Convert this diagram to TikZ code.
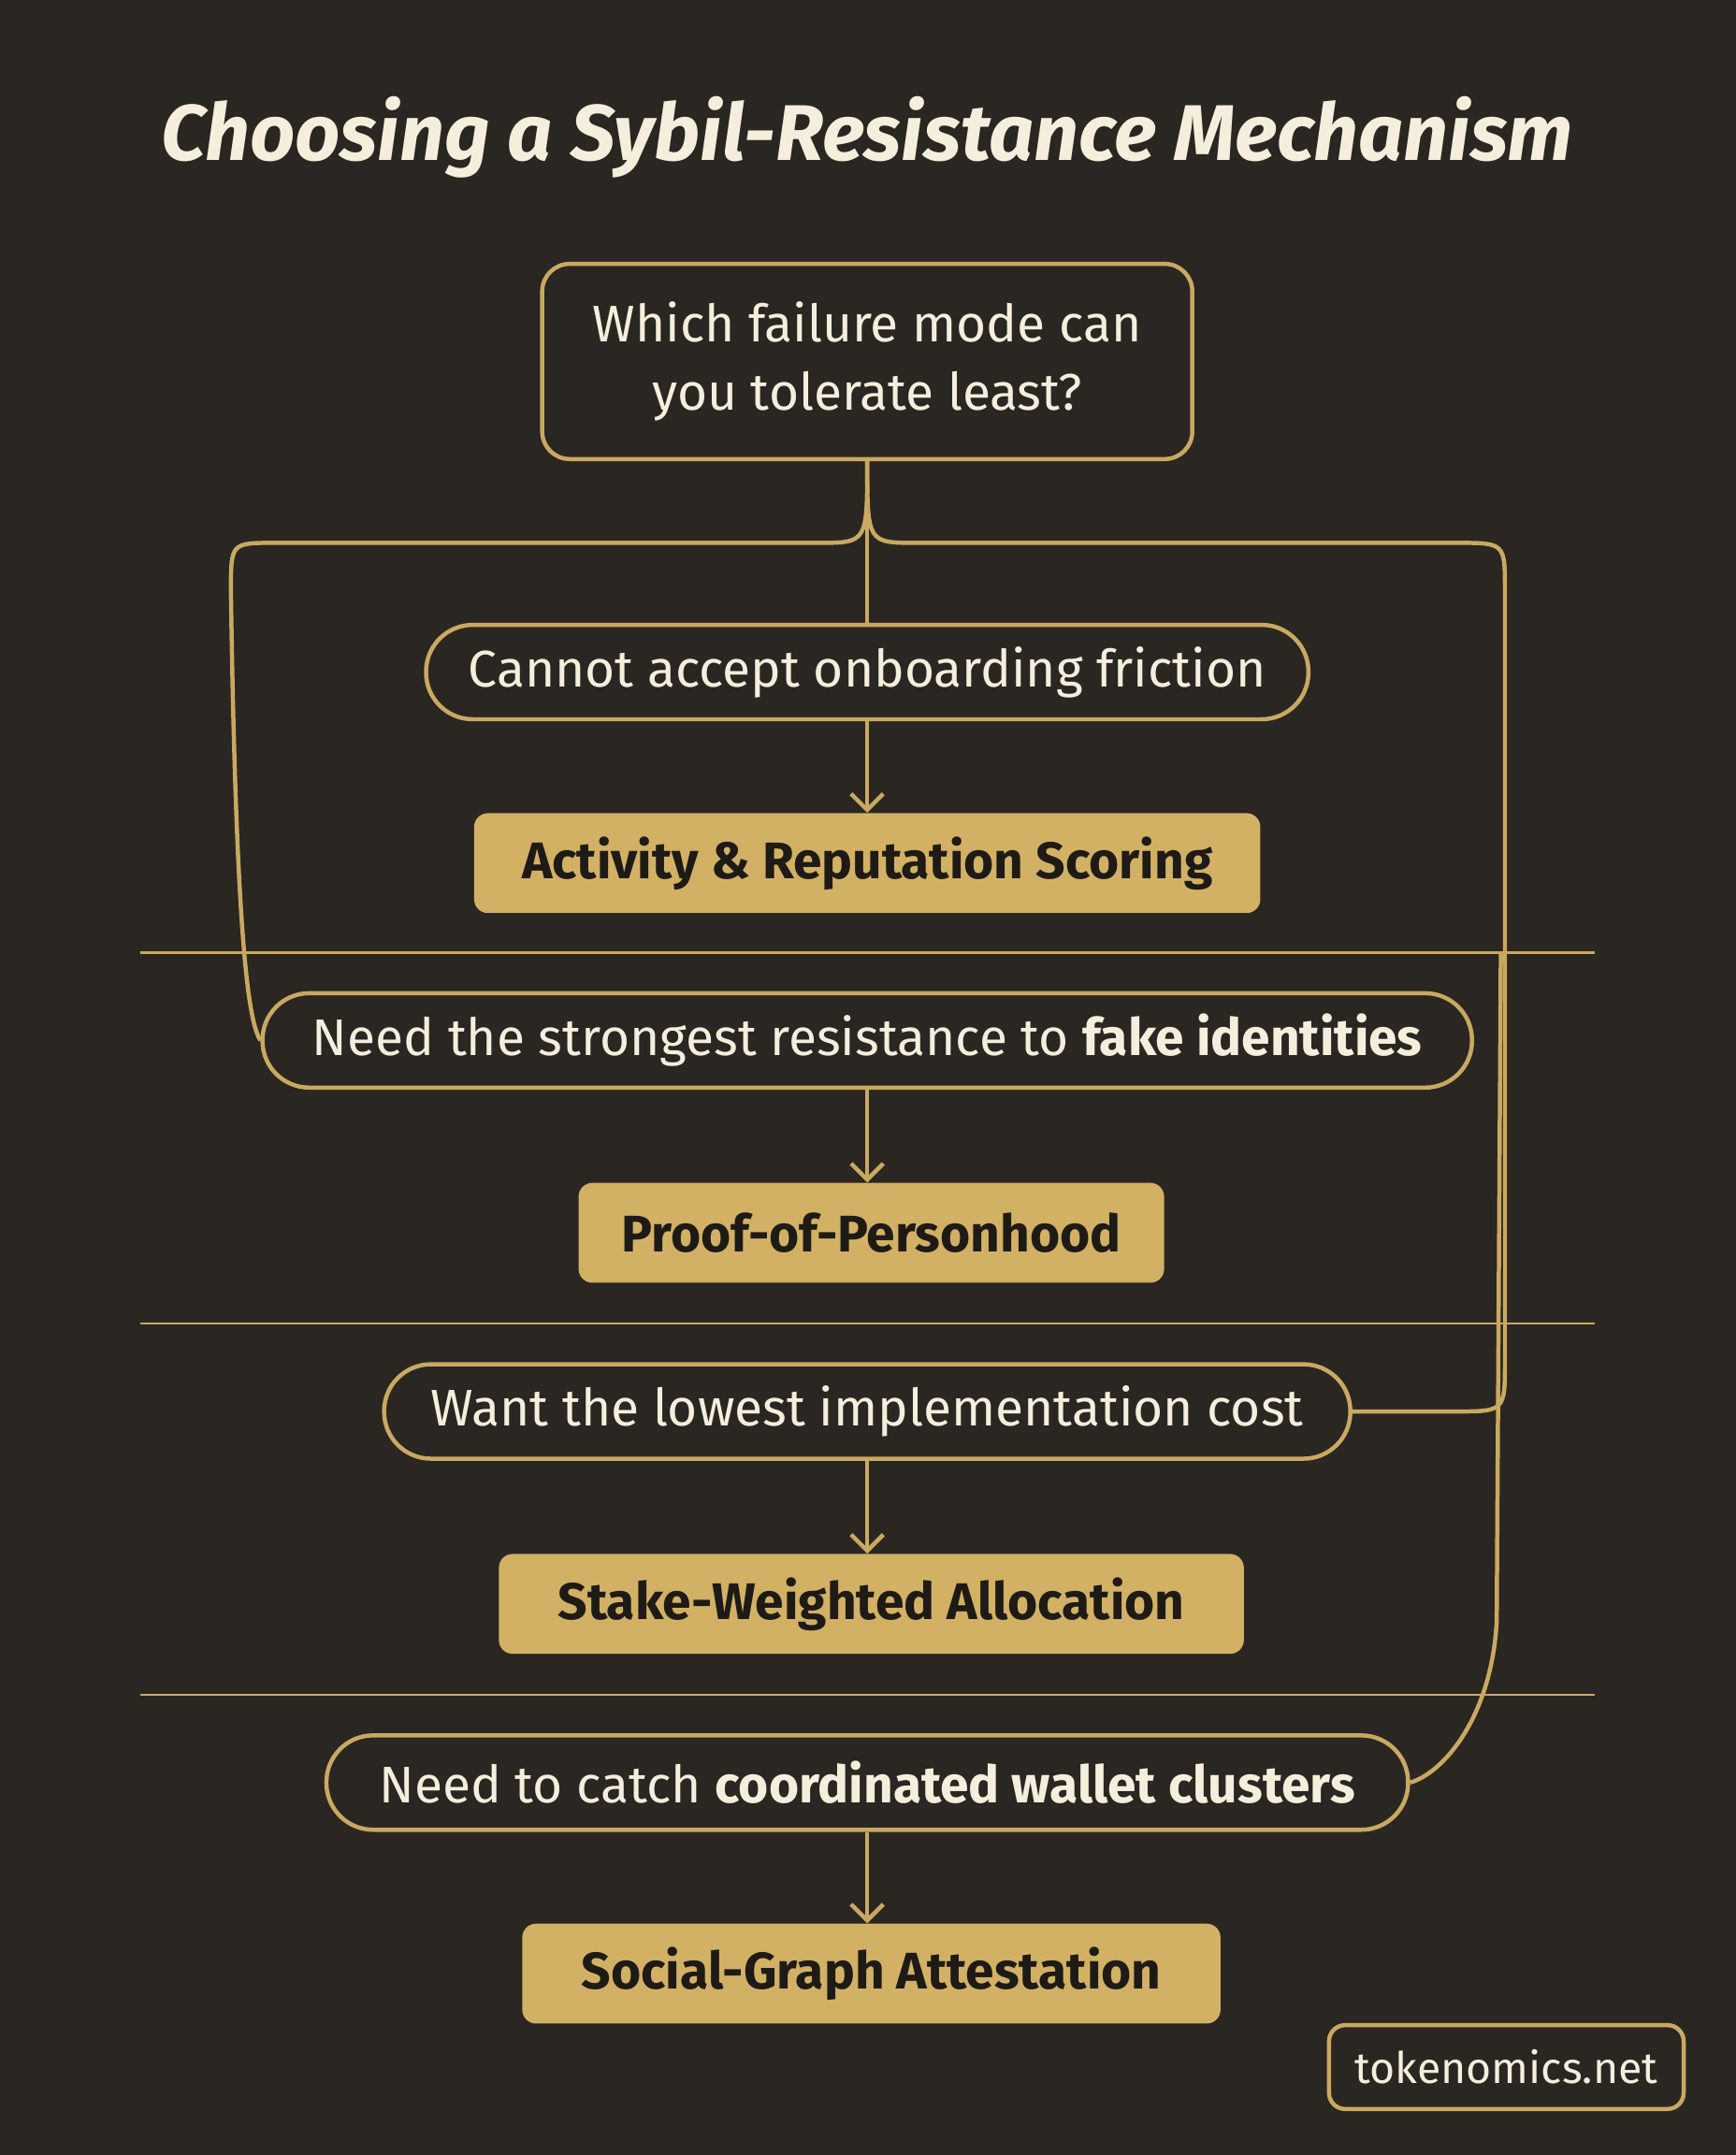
\documentclass[tikz,border=0pt]{standalone}
\usepackage{fontspec}
\setmainfont{Fira Sans}
\usetikzlibrary{arrows.meta}
\definecolor{bg}{HTML}{2A2622}
\definecolor{gold}{HTML}{C9A961}
\definecolor{goldfill}{HTML}{D2B165}
\definecolor{cream}{HTML}{F6EEDC}
\definecolor{dark}{HTML}{1E1A16}
\begin{document}
\begin{tikzpicture}[x=0.03cm,y=-0.03cm,
  line/.style={draw=gold,line width=2.6pt},
  pill/.style={line,rounded corners=1.02cm,minimum height=2.06cm,text=cream,font=\fontsize{32}{38}\selectfont,inner sep=0pt},
  res/.style={fill=goldfill,rounded corners=0.3cm,minimum height=2.18cm,text=dark,font=\fontsize{32}{38}\selectfont\bfseries,inner sep=0pt},
  arr/.style={line,-{Straight Barb[length=10pt,width=20pt,line width=2.6pt]}},
  sep/.style={draw=gold,line width=1.4pt}]
\fill[bg] (0,0) rectangle (1263,1568);
\useasboundingbox (0,0) rectangle (1263,1568);
\node[text=cream,font=\fontsize{49}{56}\selectfont\bfseries\itshape] (title) at (631,100) {Choosing a Sybil-Resistance Mechanism};
\node[line,rounded corners=0.6cm,minimum width=14.19cm,minimum height=4.26cm,text=cream,align=center,font=\fontsize{32}{42}\selectfont] (q) at (631,263) {Which failure mode can\\you tolerate least?};
\node[pill,minimum width=19.26cm] (p1) at (631,489) {Cannot accept onboarding friction};
\node[res,minimum width=17.16cm] (r1) at (631,628) {Activity \& Reputation Scoring};
\node[pill,minimum width=26.4cm] (p2) at (631,757) {Need the strongest resistance to \textbf{fake identities}};
\node[res,minimum width=12.78cm] (r2) at (634,897) {Proof-of-Personhood};
\node[pill,minimum width=21.09cm] (p3) at (631,1027) {Want the lowest implementation cost};
\node[res,minimum width=16.26cm] (r3) at (634,1167) {Stake-Weighted Allocation};
\node[pill,minimum width=23.61cm] (p4) at (631,1297) {Need to catch \textbf{coordinated wallet clusters}};
\node[res,minimum width=15.24cm] (r4) at (634,1436) {Social-Graph Attestation};
\node[line,rounded corners=0.35cm,minimum width=7.74cm,minimum height=1.83cm,text=cream,font=\fontsize{27}{30}\selectfont] (wm) at (1096,1504) {tokenomics.net};
\draw[sep] (102,693) -- (1160,693);
\draw[sep] (102,963) -- (1160,963);
\draw[sep] (102,1233) -- (1160,1233);
\draw[line] (q.south) -- (p1.north);
\draw[arr] (p1.south) -- (p1.south |- r1.north);
\draw[arr] (p2.south) -- (p2.south |- r2.north);
\draw[arr] (p3.south) -- (p3.south |- r3.north);
\draw[arr] (p4.south) -- (p4.south |- r4.north);
\coordinate (la) at (595,395); \coordinate (lb) at (200,395);
\coordinate (ra) at (667,395); \coordinate (rb) at (1060,395);
\draw[line] (q.south) .. controls (631,395) .. (la) -- (lb) .. controls (168,395) .. (168,430) .. controls (172,700) and (182,745) .. (p2.west);
\draw[line] (q.south) .. controls (631,395) .. (ra) -- (rb) .. controls (1095,395) .. (1095,430) -- (1095,990) .. controls (1095,1027) .. (1058,1027) -- (p3.east);
\coordinate (rc) at (1092,693);
\draw[line] (rc) -- (1089,1180) .. controls (1085,1250) and (1050,1290) .. (p4.east);
\end{tikzpicture}
\end{document}
